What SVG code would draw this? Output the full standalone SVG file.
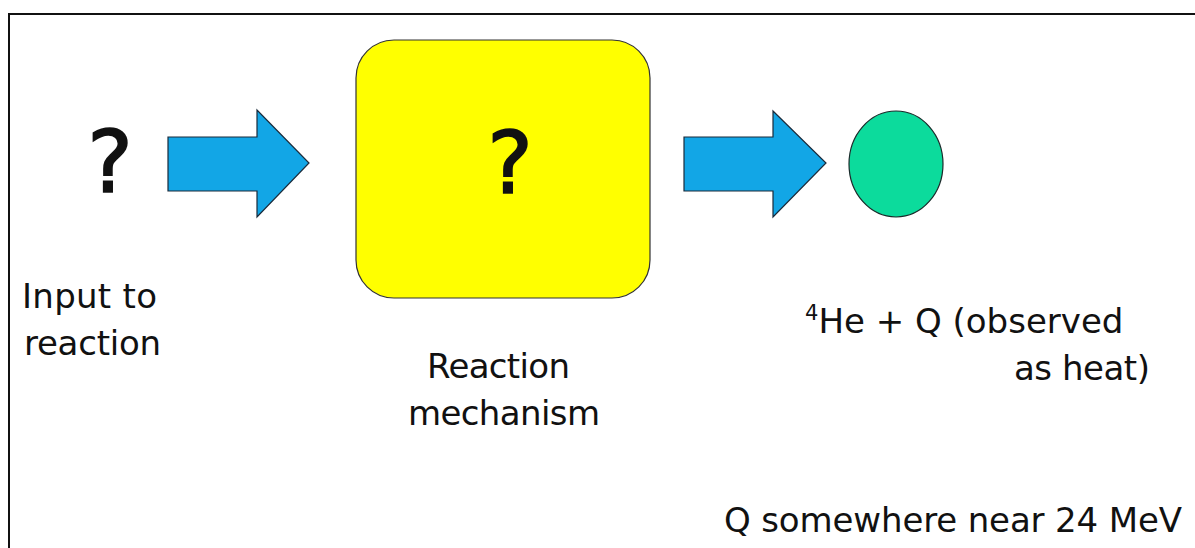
<svg xmlns="http://www.w3.org/2000/svg" width="1195" height="548" viewBox="0 0 1195 548">
<style>
text{font-family:"DejaVu Sans","Verdana",sans-serif;fill:#111}
.lbl{font-size:34px}
.q{font-size:86px;text-anchor:middle;stroke:#111;stroke-width:1.6}
.blk{fill:#12a6e6;stroke:#1a2a3a;stroke-width:1.2}
</style>
<rect width="1195" height="548" fill="#ffffff"/>
<path d="M9,548 V14 H1195" fill="none" stroke="#111" stroke-width="2"/>
<g id="connectors">
<polygon class="blk" points="168,137 257,137 257,110 309,163 257,217 257,191 168,191"/>
<polygon class="blk" points="684,137 773,137 773,111 826,163 773,217 773,191 684,191"/>
</g>
<g id="input">
<text class="q" x="110" y="192">?</text>
<text class="lbl" x="22" y="308" textLength="135" lengthAdjust="spacing">Input to</text>
<text class="lbl" x="24" y="355" textLength="137" lengthAdjust="spacing">reaction</text>
</g>
<g id="mechanism">
<rect x="356" y="40" width="294" height="258" rx="38" ry="38" fill="#ffff00" stroke="#333" stroke-width="1.2"/>
<text class="q" x="510" y="193">?</text>
<text class="lbl" x="427" y="378" textLength="143" lengthAdjust="spacing">Reaction</text>
<text class="lbl" x="408" y="425" textLength="192" lengthAdjust="spacing">mechanism</text>
</g>
<g id="product">
<ellipse cx="896" cy="164" rx="47" ry="53" fill="#0cdb9c" stroke="#1a2a2a" stroke-width="1.2"/>
<text class="lbl" x="805" y="333"><tspan font-size="21" dy="-13">4</tspan><tspan dy="13">He + Q (observed</tspan></text>
<text class="lbl" x="1014" y="380" textLength="136" lengthAdjust="spacing">as heat)</text>
</g>
<g id="note">
<text class="lbl" x="724" y="532" textLength="458" lengthAdjust="spacing">Q somewhere near 24 MeV</text>
</g>
</svg>
